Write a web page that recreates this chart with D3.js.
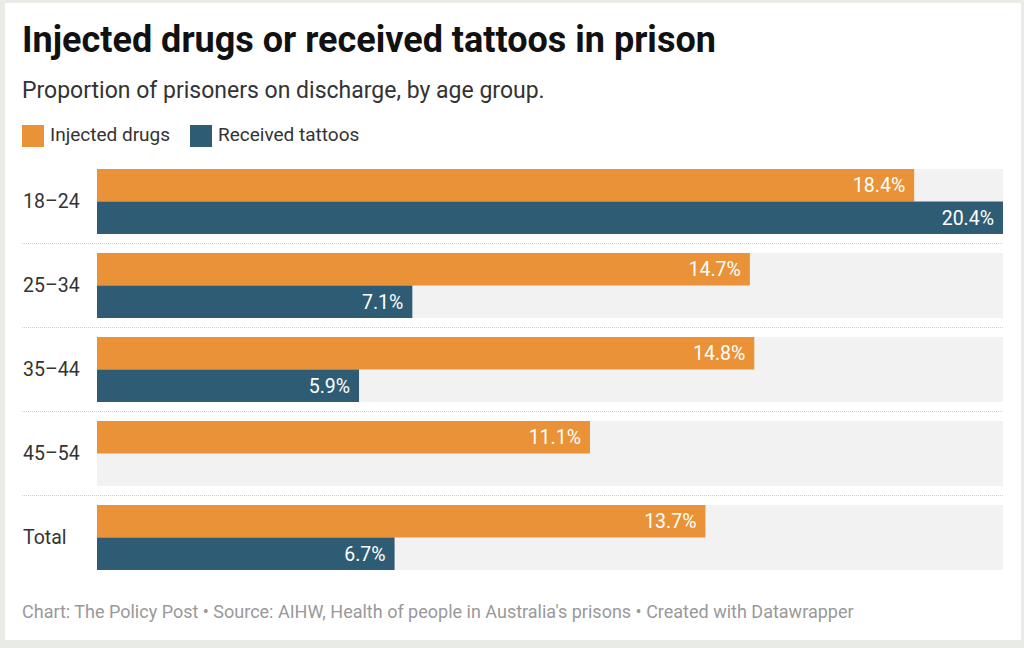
<!DOCTYPE html>
<html>
<head>
<meta charset="utf-8">
<script src="https://cdn.jsdelivr.net/npm/d3@7"></script>
<style>
  body { margin: 0; background: #e9ebe6; }
  svg { display: block; font-family: Roboto, "Noto Sans", sans-serif; }
</style>
</head>
<body>
<div id="chart"></div>
<script>
var categories = ["18–24", "25–34", "35–44", "45–54", "Total"];
var injectedDrugs = [18.4, 14.7, 14.8, 11.1, 13.7];
var receivedTattoos = [20.4, 7.1, 5.9, null, 6.7];
var seriesNames = ["Injected drugs", "Received tattoos"];
var colors = ["#e99238", "#2e5c74"];

var w = 1024, h = 648;

var svg = d3.select("#chart")
            .append("svg")
            .attr("width", w)
            .attr("height", h);

// white card
svg.append("rect")
   .attr("x", 5).attr("y", 3)
   .attr("width", 1016).attr("height", 637)
   .attr("fill", "white");

svg.append("text")
   .attr("x", 22).attr("y", 52)
   .attr("font-size", "36px")
   .attr("font-weight", "bold")
   .attr("fill", "#111")
   .text("Injected drugs or received tattoos in prison");

svg.append("text")
   .attr("x", 22).attr("y", 98)
   .attr("font-size", "23px")
   .attr("fill", "#333")
   .text("Proportion of prisoners on discharge, by age group.");

// legend
var legendX = [22, 190];
var legend = svg.selectAll("g.legend")
    .data(seriesNames)
    .enter()
    .append("g")
    .attr("class", "legend")
    .attr("transform", function(d, i) { return "translate(" + legendX[i] + ",125)"; });

legend.append("rect")
      .attr("width", 22).attr("height", 22)
      .attr("fill", function(d, i) { return colors[i]; });

legend.append("text")
      .attr("x", 28).attr("y", 16)
      .attr("font-size", "19px")
      .attr("fill", "#333")
      .text(function(d) { return d; });

// scales
var x = d3.scaleLinear()
   .domain([0, d3.max(injectedDrugs.concat(receivedTattoos))])
   .range([97, 1003]);

var y = d3.scaleBand()
   .domain(categories)
   .range([169, 570])
   .paddingInner(19 / 84)
   .paddingOuter(0);

var ySub = d3.scaleBand()
   .domain([0, 1])
   .range([0, y.bandwidth()]);

var rows = categories.map(function(c, i) {
  return {cat: c, vals: [injectedDrugs[i], receivedTattoos[i]]};
});

// separators
svg.selectAll("line.sep")
   .data(categories.slice(0, -1))
   .enter()
   .append("line")
   .attr("class", "sep")
   .attr("x1", 22).attr("x2", 1003)
   .attr("y1", function(d) { return y(d) + y.bandwidth() + y.step() * y.paddingInner() / 2; })
   .attr("y2", function(d) { return y(d) + y.bandwidth() + y.step() * y.paddingInner() / 2; })
   .attr("stroke", "#d0d0d0")
   .attr("stroke-width", 1)
   .attr("stroke-dasharray", "1,1");

var group = svg.selectAll("g.row")
    .data(rows)
    .enter()
    .append("g")
    .attr("class", "row")
    .attr("transform", function(d) { return "translate(0," + y(d.cat) + ")"; });

group.append("rect")
     .attr("x", x(0))
     .attr("width", x.range()[1] - x(0))
     .attr("height", y.bandwidth())
     .attr("fill", "#f2f2f2");

group.append("text")
     .attr("x", 23)
     .attr("y", y.bandwidth() / 2)
     .attr("dy", "0.35em")
     .attr("font-size", "19.5px")
     .attr("fill", "#333")
     .text(function(d) { return d.cat; });

var bars = group.selectAll("g.bar")
    .data(function(d) {
      return d.vals.map(function(v, i) { return {v: v, s: i}; }).filter(function(e) { return e.v != null; });
    })
    .enter()
    .append("g")
    .attr("class", "bar");

bars.append("rect")
    .attr("x", x(0))
    .attr("y", function(d) { return ySub(d.s); })
    .attr("width", function(d) { return x(d.v) - x(0); })
    .attr("height", ySub.bandwidth())
    .attr("fill", function(d) { return colors[d.s]; });

bars.append("text")
    .attr("x", function(d) { return x(d.v) - 9; })
    .attr("y", function(d) { return ySub(d.s) + ySub.bandwidth() / 2; })
    .attr("dy", "0.35em")
    .attr("text-anchor", "end")
    .attr("font-size", "19.5px")
    .attr("fill", "white")
    .text(function(d) { return d.v.toFixed(1) + "%"; });

svg.append("text")
   .attr("x", 22).attr("y", 618)
   .attr("font-size", "18px")
   .attr("fill", "#999")
   .text("Chart: The Policy Post • Source: AIHW, Health of people in Australia's prisons • Created with Datawrapper");
</script>
</body>
</html>
